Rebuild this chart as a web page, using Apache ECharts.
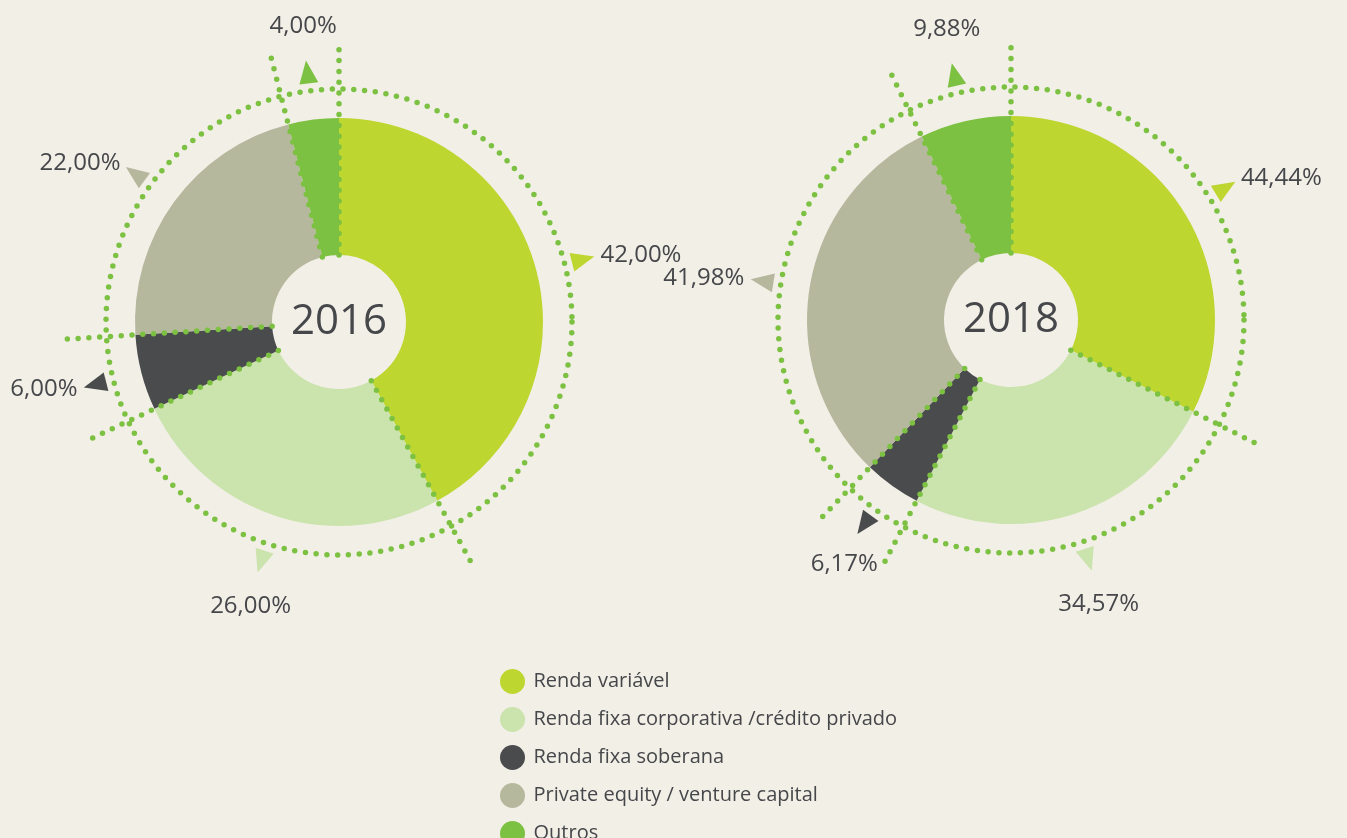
<!DOCTYPE html>
<html><head><meta charset="utf-8">
<script src="https://cdn.jsdelivr.net/npm/echarts@6/dist/echarts.min.js"></script>
<style>html,body{margin:0;padding:0;background:#f2efe7;} #c{width:1347px;height:838px;}</style>
</head><body><div id="c"></div>
<script>
// ---- data ----
const categories = ['Renda variável', 'Renda fixa corporativa /crédito privado', 'Renda fixa soberana', 'Private equity / venture capital', 'Outros'];
const years = ['2016', '2018'];
const values2016 = [42.00, 26.00, 6.00, 22.00, 4.00];
const values2018 = [44.44, 34.57, 6.17, 41.98, 9.88];

// ---- style ----
const colors = ['#bdd630', '#cbe3ad', '#4a4b4d', '#b6b89e', '#7cc142'];
const dotColor = '#7cc142';
const textColor = '#46474a';
const font = 'Open Sans';
const centers = [[339, 322], [1011, 320]];
const R_IN = 67, R_OUT = 204, R_RING = 233, R_LINE = 278, R_TRI = 252, R_MAX = 340;
const R_LAB_SIDE = 270, R_LAB_END = 286;
const dotted = { color: dotColor, width: 5.5, type: [0, 10.8], cap: 'round' };

const allValues = [values2016, values2018];
const fmt = v => v.toFixed(2).replace('.', ',') + '%';

const polar = [], angleAxis = [], radiusAxis = [], series = [];
allValues.forEach((vals, i) => {
  const pRing = 2 * i, pMain = 2 * i + 1;
  polar.push({ center: centers[i], radius: R_RING });
  angleAxis.push({
    polarIndex: pRing, type: 'value', min: 0, max: 360, startAngle: 90, clockwise: true,
    axisLine: { show: true, lineStyle: dotted },
    axisTick: { show: false }, axisLabel: { show: false }, splitLine: { show: false }
  });
  radiusAxis.push({ polarIndex: pRing, type: 'value', min: 0, max: R_RING, show: false });
  polar.push({ center: centers[i], radius: R_MAX });
  angleAxis.push({
    polarIndex: pMain, type: 'value', min: 0, max: 360, startAngle: 90, clockwise: true,
    axisLine: { show: false }, axisTick: { show: false }, axisLabel: { show: false }, splitLine: { show: false }
  });
  radiusAxis.push({ polarIndex: pMain, type: 'value', min: 0, max: R_MAX, show: false });

  series.push({
    type: 'pie', center: centers[i], radius: [R_IN, R_OUT], startAngle: 90, clockwise: true,
    silent: true, label: { show: false }, labelLine: { show: false },
    data: categories.map((n, k) => ({ name: n, value: vals[k], itemStyle: { color: colors[k] } })),
    z: 2
  });

  const total = vals.reduce((a, b) => a + b, 0);
  let cum = 0;
  const starts = [], mids = [];
  vals.forEach(v => {
    starts.push(360 * cum / total);
    mids.push(360 * (cum + v / 2) / total);
    cum += v;
  });

  starts.forEach(b => {
    series.push({
      type: 'line', coordinateSystem: 'polar', polarIndex: pMain, silent: true,
      symbol: 'none', data: [[R_IN, b], [R_LINE, b]], lineStyle: dotted, z: 5
    });
  });

  series.push({
    type: 'scatter', coordinateSystem: 'polar', polarIndex: pMain, silent: true,
    symbol: 'triangle', symbolSize: [19, 23], z: 6, itemStyle: { opacity: 1 },
    data: mids.map((m, k) => ({ value: [R_TRI, m], symbolRotate: -m, itemStyle: { color: colors[k], opacity: 1 } }))
  });

  series.push({
    type: 'scatter', coordinateSystem: 'polar', polarIndex: pMain, silent: true,
    symbolSize: 0, z: 7, itemStyle: { opacity: 1 },
    label: { show: true, position: 'inside', fontSize: 24, color: textColor, fontFamily: font },
    data: mids.map((m, k) => {
      const rad = m * Math.PI / 180;
      const s = Math.sin(rad), c = Math.cos(rad);
      let r, align, vAlign;
      if (Math.abs(s) > 0.75) {
        r = R_LAB_SIDE; align = s > 0 ? 'left' : 'right'; vAlign = 'middle';
      } else {
        r = R_LAB_END; align = 'center'; vAlign = c > 0 ? 'bottom' : 'top';
      }
      return { value: [r, m], label: { formatter: fmt(vals[k]), align, verticalAlign: vAlign } };
    })
  });

  series.push({
    type: 'scatter', coordinateSystem: 'polar', polarIndex: pMain, silent: true,
    symbolSize: 0, z: 7, itemStyle: { opacity: 1 },
    label: { show: true, position: 'inside', fontSize: 42, color: textColor, fontFamily: font, formatter: years[i] },
    data: [[0, 0]]
  });
});

const chart = echarts.init(document.getElementById('c'), null, { renderer: 'canvas' });
chart.setOption({
  backgroundColor: '#f2efe7',
  animation: false,
  polar, angleAxis, radiusAxis,
  legend: {
    data: categories, orient: 'vertical', left: 495, top: 664, height: 220, icon: 'circle',
    itemWidth: 32, itemHeight: 25, itemGap: 13, selectedMode: false,
    textStyle: { fontSize: 20, color: textColor, fontFamily: font }
  },
  series
});
</script>
</body></html>
